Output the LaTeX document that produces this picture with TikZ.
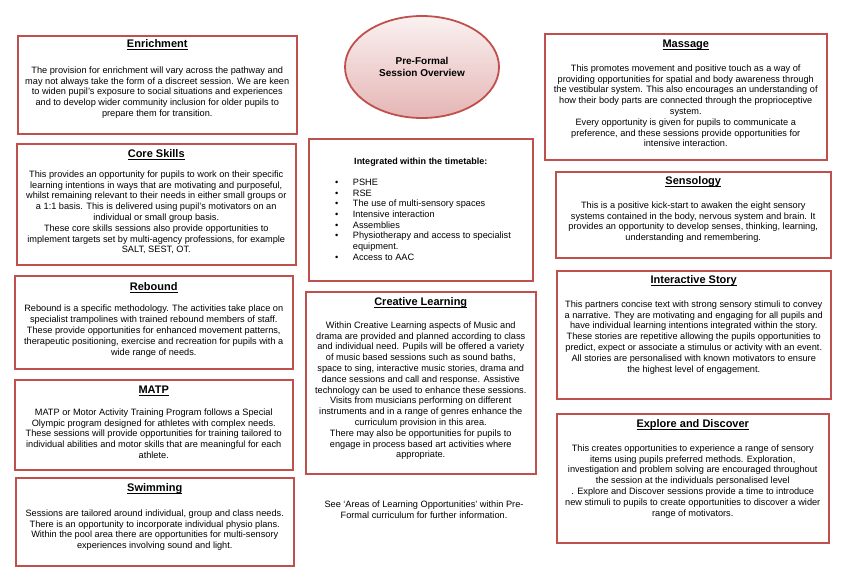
\documentclass[tikz,border=0pt]{standalone}
\usepackage{fontspec}
\setmainfont{Liberation Sans}
\usepackage{xcolor}
\definecolor{pfred}{RGB}{192,80,77}
\usetikzlibrary{positioning,shapes.geometric}
\newcommand{\ultitle}[1]{\underline{\smash{#1}}}
\tikzset{
  sbox/.style={draw=pfred, line width=1.5pt, fill=white, anchor=north west, inner sep=0pt},
  stitle/.style={font=\fontsize{11}{13}\selectfont\bfseries, anchor=base, inner sep=0pt},
  stext/.style={font=\fontsize{9.2}{10.8}\selectfont, align=center, anchor=north, inner sep=0pt},
}
\begin{document}
\begin{tikzpicture}[x=1pt, y=-1pt]
\useasboundingbox[fill=white] (0,0) rectangle (841,574);

% Overview oval
\node[ellipse, draw=pfred, line width=1.8pt, top color=pfred!8, bottom color=pfred!42,
      minimum width=154pt, minimum height=102pt, align=center,
      font=\fontsize{10}{12.3}\selectfont\bfseries] (overview) at (422,67) {Pre-Formal\\Session Overview};

% Left column
\node[sbox, minimum width=279pt, minimum height=98pt] (enrich) at (17,35) {};
\node[stitle] (enrich-title) at ([yshift=-12.8pt]enrich.north) {\ultitle{Enrichment}};
\node[stext] (enrich-text) at ([yshift=-31.4pt]enrich.north)
  {The provision for enrichment will vary across the pathway and\\
   may not always take the form of a discreet session. We are keen\\
   to widen pupil’s exposure to social situations and experiences\\
   and to develop wider community inclusion for older pupils to\\
   prepare them for transition.};

\node[sbox, minimum width=279pt, minimum height=121pt] (core) at (16,143) {};
\node[stitle] (core-title) at ([yshift=-14.8pt]core.north) {\ultitle{Core Skills}};
\node[stext] (core-text) at ([yshift=-27.4pt]core.north)
  {This provides an opportunity for pupils to work on their specific\\
   learning intentions in ways that are motivating and purposeful,\\
   whilst remaining relevant to their needs in either small groups or\\
   a 1:1 basis. This is delivered using pupil’s motivators on an\\
   individual or small group basis.\\
   These core skills sessions also provide opportunities to\\
   implement targets set by multi-agency professions, for example\\
   SALT, SEST, OT.};

\node[sbox, minimum width=278pt, minimum height=93pt] (rebound) at (14,275) {};
\node[stitle] (rebound-title) at ([yshift=-15.8pt]rebound.north) {\ultitle{Rebound}};
\node[stext] (rebound-text) at ([yshift=-30pt]rebound.north)
  {Rebound is a specific methodology. The activities take place on\\
   specialist trampolines with trained rebound members of staff.\\
   These provide opportunities for enhanced movement patterns,\\
   therapeutic positioning, exercise and recreation for pupils with a\\
   wide range of needs.};

\node[sbox, minimum width=278pt, minimum height=90pt] (matp) at (14,379) {};
\node[stitle] (matp-title) at ([yshift=-14.8pt]matp.north) {\ultitle{MATP}};
\node[stext] (matp-text) at ([yshift=-29.4pt]matp.north)
  {MATP or Motor Activity Training Program follows a Special\\
   Olympic program designed for athletes with complex needs.\\
   These sessions will provide opportunities for training tailored to\\
   individual abilities and motor skills that are meaningful for each\\
   athlete.};

\node[sbox, minimum width=278pt, minimum height=88pt] (swim) at (15,477) {};
\node[stitle] (swim-title) at ([yshift=-14.8pt]swim.north) {\ultitle{Swimming}};
\node[stext] (swim-text) at ([yshift=-32.4pt]swim.north)
  {Sessions are tailored around individual, group and class needs.\\
   There is an opportunity to incorporate individual physio plans.\\
   Within the pool area there are opportunities for multi-sensory\\
   experiences involving sound and light.};

% Middle column
\node[sbox, minimum width=224pt, minimum height=142pt] (timetable) at (308,138) {};
\node[font=\fontsize{9}{10.8}\selectfont\bfseries, anchor=base, inner sep=0pt] (timetable-title)
  at ([yshift=-26.2pt]timetable.north) {Integrated within the timetable:};
\node[font=\fontsize{9.2}{10.7}\selectfont, anchor=north west, inner sep=0pt] (timetable-list)
  at ([xshift=27pt, yshift=-39.7pt]timetable.north west)
  {\begin{tabular}{@{}p{17.7pt}@{}l@{}}
   \textbullet & PSHE\\
   \textbullet & RSE\\
   \textbullet & The use of multi-sensory spaces\\
   \textbullet & Intensive interaction\\
   \textbullet & Assemblies\\
   \textbullet & Physiotherapy and access to specialist\\
               & equipment.\\
   \textbullet & Access to AAC
   \end{tabular}};

\node[sbox, minimum width=230pt, minimum height=182pt] (creative) at (305,291) {};
\node[stitle] (creative-title) at ([yshift=-14.8pt]creative.north) {\ultitle{Creative Learning}};
\node[stext] (creative-text) at ([yshift=-30.4pt]creative.north)
  {Within Creative Learning aspects of Music and\\
   drama are provided and planned according to class\\
   and individual need. Pupils will be offered a variety\\
   of music based sessions such as sound baths,\\
   space to sing, interactive music stories, drama and\\
   dance sessions and call and response. Assistive\\
   technology can be used to enhance these sessions.\\
   Visits from musicians performing on different\\
   instruments and in a range of genres enhance the\\
   curriculum provision in this area.\\
   There may also be opportunities for pupils to\\
   engage in process based art activities where\\
   appropriate.};

\node[stext] (seenote) at (424,500.4)
  {See ‘Areas of Learning Opportunities’ within Pre-\\
   Formal curriculum for further information.};

% Right column
\node[sbox, minimum width=282pt, minimum height=126pt] (massage) at (544,33) {};
\node[stitle] (massage-title) at ([yshift=-14.8pt]massage.north) {\ultitle{Massage}};
\node[stext] (massage-text) at ([yshift=-31.4pt]massage.north)
  {This promotes movement and positive touch as a way of\\
   providing opportunities for spatial and body awareness through\\
   the vestibular system. This also encourages an understanding of\\
   how their body parts are connected through the proprioceptive\\
   system.\\
   Every opportunity is given for pupils to communicate a\\
   preference, and these sessions provide opportunities for\\
   intensive interaction.};

\node[sbox, minimum width=275pt, minimum height=86pt] (senso) at (555,171) {};
\node[stitle] (senso-title) at ([yshift=-13.8pt]senso.north) {\ultitle{Sensology}};
\node[stext] (senso-text) at ([yshift=-30.4pt]senso.north)
  {This is a positive kick-start to awaken the eight sensory\\
   systems contained in the body, nervous system and brain. It\\
   provides an opportunity to develop senses, thinking, learning,\\
   understanding and remembering.};

\node[sbox, minimum width=274pt, minimum height=128pt] (story) at (556,270) {};
\node[stitle] (story-title) at ([yshift=-13.8pt]story.north) {\ultitle{Interactive Story}};
\node[stext] (story-text) at ([yshift=-30.4pt]story.north)
  {This partners concise text with strong sensory stimuli to convey\\
   a narrative. They are motivating and engaging for all pupils and\\
   have individual learning intentions integrated within the story.\\
   These stories are repetitive allowing the pupils opportunities to\\
   predict, expect or associate a stimulus or activity with an event.\\
   All stories are personalised with known motivators to ensure\\
   the highest level of engagement.};

\node[sbox, minimum width=272pt, minimum height=129pt] (explore) at (556,413) {};
\node[stitle] (explore-title) at ([yshift=-14.8pt]explore.north) {\ultitle{Explore and Discover}};
\node[stext] (explore-text) at ([yshift=-31.4pt]explore.north)
  {This creates opportunities to experience a range of sensory\\
   items using pupils preferred methods. Exploration,\\
   investigation and problem solving are encouraged throughout\\
   the session at the individuals personalised level\\
   . Explore and Discover sessions provide a time to introduce\\
   new stimuli to pupils to create opportunities to discover a wider\\
   range of motivators.};

\end{tikzpicture}
\end{document}
